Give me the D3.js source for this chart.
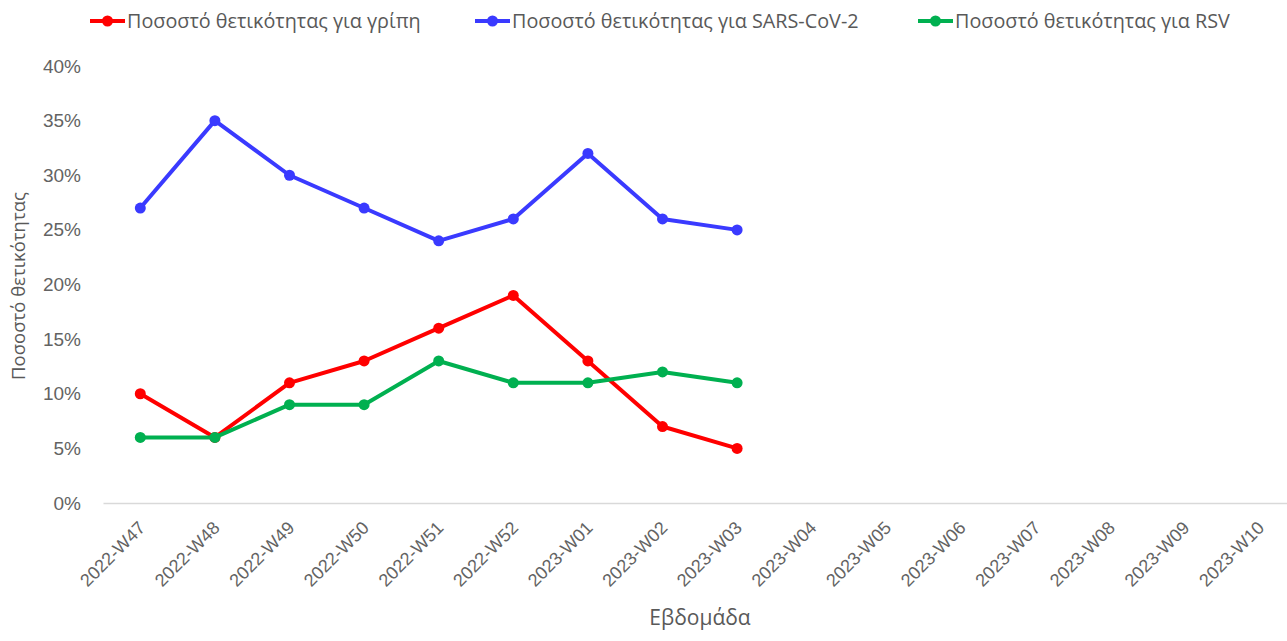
<!DOCTYPE html>
<html>
<head>
<meta charset="utf-8">
<script src="https://cdn.jsdelivr.net/npm/d3@7"></script>
<style>
  body { margin: 0; background: #fff; }
  svg { font-family: "Open Sans", "Noto Sans", sans-serif; }
  .tick text { fill: #636363; font-size: 19px; }
</style>
</head>
<body>
<svg id="chart" width="1287" height="641"></svg>
<script>
const weeks = ["2022-W47","2022-W48","2022-W49","2022-W50","2022-W51","2022-W52",
  "2023-W01","2023-W02","2023-W03","2023-W04","2023-W05","2023-W06",
  "2023-W07","2023-W08","2023-W09","2023-W10"];
const fluValues = [10, 6, 11, 13, 16, 19, 13, 7, 5];
const covidValues = [27, 35, 30, 27, 24, 26, 32, 26, 25];
const rsvValues = [6, 6, 9, 9, 13, 11, 11, 12, 11];
const yTicks = [0, 5, 10, 15, 20, 25, 30, 35, 40];

const seriesNames = ["Ποσοστό θετικότητας για γρίπη",
  "Ποσοστό θετικότητας για SARS-CoV-2",
  "Ποσοστό θετικότητας για RSV"];
const seriesColors = ["#ff0000", "#3a3aff", "#00b050"];
const seriesValues = [fluValues, covidValues, rsvValues];

const svg = d3.select("#chart");
const plotLeft = 103, step = 74.6;
const plotTop = 66, plotBottom = 503;

const x = d3.scaleBand()
  .domain(weeks)
  .range([plotLeft, plotLeft + step * weeks.length]);

const y = d3.scaleLinear()
  .domain([0, 40])
  .range([plotBottom, plotTop]);

// y axis (labels only)
const yAxis = svg.append("g")
  .attr("transform", `translate(${plotLeft},0)`)
  .call(d3.axisLeft(y).tickValues(yTicks).tickFormat(d => d + "%").tickSize(0).tickPadding(22));
yAxis.select(".domain").remove();

// x axis
const xAxis = svg.append("g")
  .attr("transform", `translate(0,${plotBottom})`)
  .call(d3.axisBottom(x).tickSize(0).tickPadding(0));
xAxis.select(".domain").attr("stroke", "#d9d9d9").attr("stroke-width", 1.3);
xAxis.selectAll(".tick text")
  .attr("text-anchor", "end")
  .attr("dy", 0)
  .style("font-size", "18px")
  .attr("transform", "translate(6,26) rotate(-45)");

// axis titles
svg.append("text")
  .attr("transform", "translate(25,286) rotate(-90)")
  .attr("text-anchor", "middle")
  .attr("fill", "#595959")
  .style("font-size", "18.5px")
  .text("Ποσοστό θετικότητας");

svg.append("text")
  .attr("x", 700).attr("y", 625)
  .attr("text-anchor", "middle")
  .attr("fill", "#595959")
  .style("font-size", "21px")
  .text("Εβδομάδα");

// lines
const line = d3.line()
  .x((d, i) => x(weeks[i]) + x.bandwidth() / 2)
  .y(d => y(d));

seriesValues.forEach((vals, k) => {
  const g = svg.append("g");
  g.append("path")
    .datum(vals)
    .attr("fill", "none")
    .attr("stroke", seriesColors[k])
    .attr("stroke-width", 4)
    .attr("stroke-linejoin", "round")
    .attr("d", line);
  g.selectAll("circle")
    .data(vals)
    .join("circle")
    .attr("cx", (d, i) => x(weeks[i]) + x.bandwidth() / 2)
    .attr("cy", d => y(d))
    .attr("r", 5.5)
    .attr("fill", seriesColors[k]);
});

// legend
const legendX = [90, 475, 918];
seriesNames.forEach((name, k) => {
  const g = svg.append("g").attr("transform", `translate(${legendX[k]},21)`);
  g.append("line").attr("x1", 0).attr("x2", 35)
    .attr("stroke", seriesColors[k]).attr("stroke-width", 4);
  g.append("circle").attr("cx", 17.5).attr("r", 5.5).attr("fill", seriesColors[k]);
  g.append("text").attr("x", 37).attr("dy", "0.35em")
    .attr("fill", "#595959").style("font-size", "19.8px").text(name);
});
</script>
</body>
</html>
